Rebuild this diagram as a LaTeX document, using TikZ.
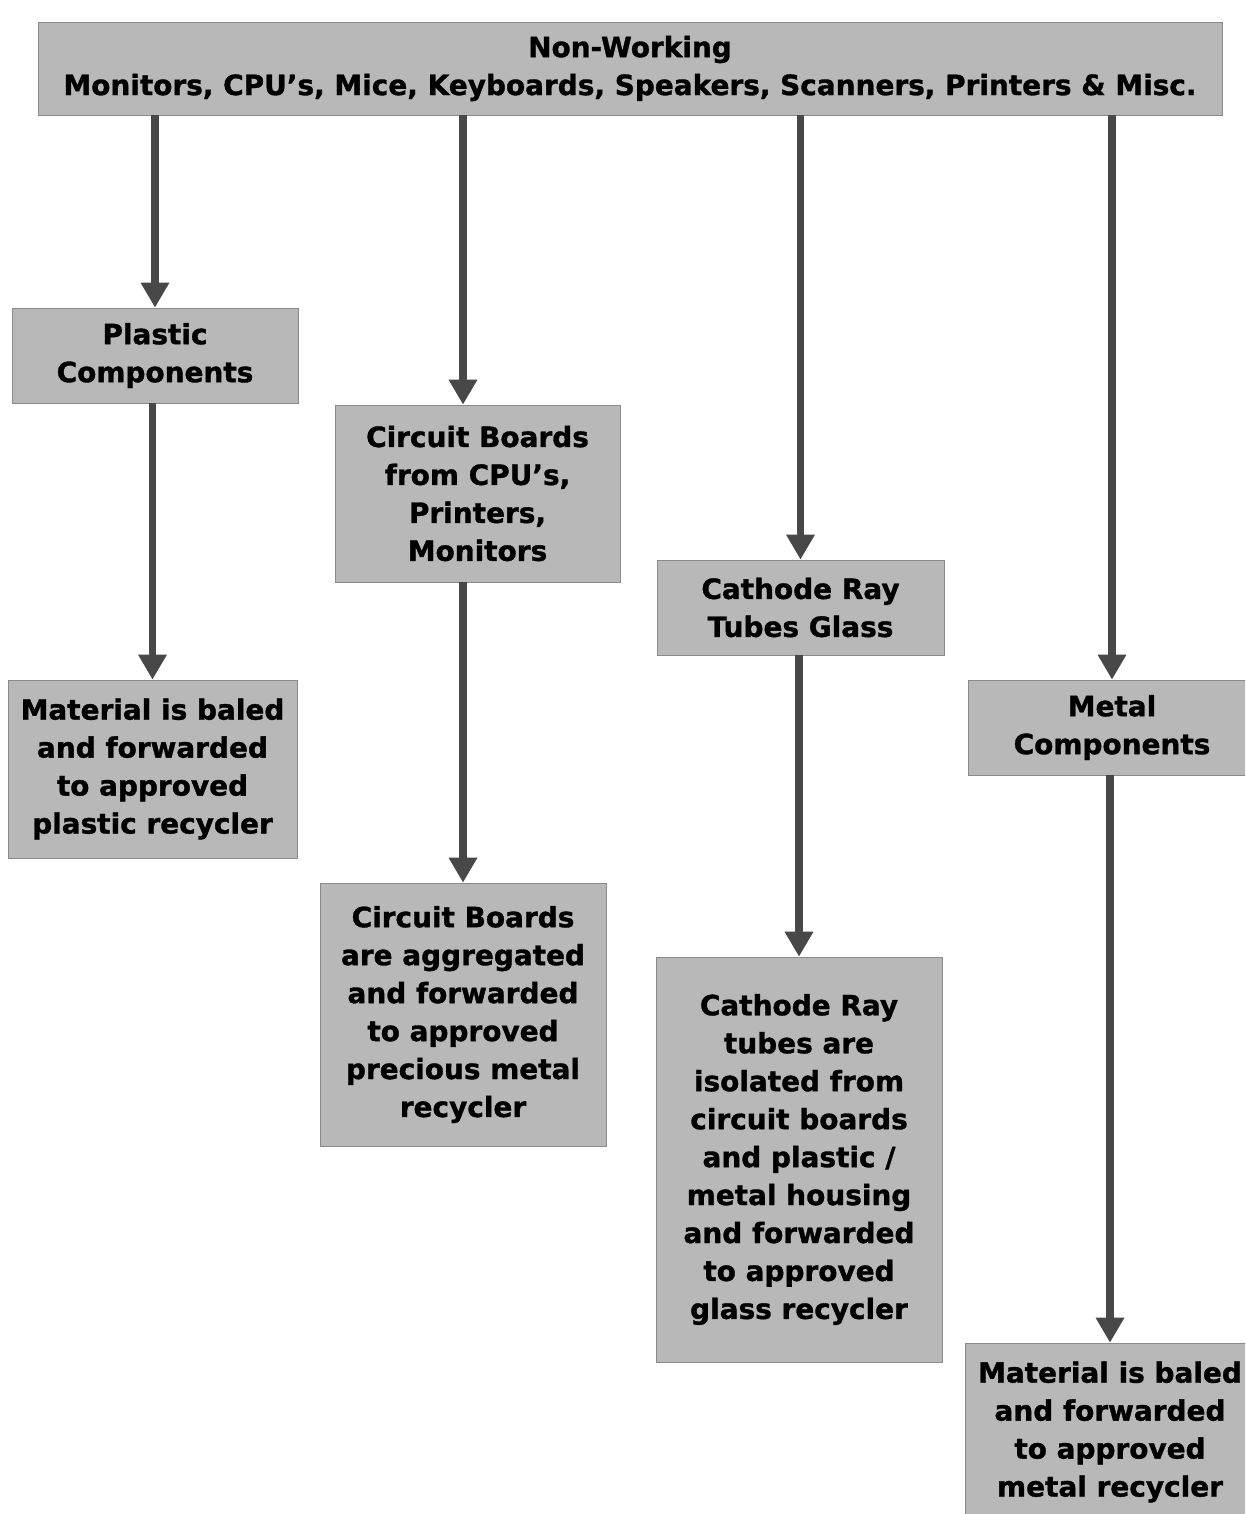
\documentclass[tikz,border=0pt]{standalone}
\usepackage{fontspec}
\setmainfont{DejaVu Sans}[BoldFeatures={FakeBold=1.2}]
\usetikzlibrary{arrows.meta}
\definecolor{boxgray}{RGB}{184,184,184}
\definecolor{arrowgray}{RGB}{72,72,72}

\begin{document}
\begin{tikzpicture}[%
      x=0.02cm, y=-0.02cm,
      box/.style={fill=boxgray, draw=boxgray!75!black, line width=0.4pt,
        align=center, inner sep=0pt,
        execute at begin node={\rule{0pt}{16.5pt}},
        font=\bfseries\fontsize{15.9}{21.6}\selectfont},
      flow/.style={draw=arrowgray, line width=4.5pt,
        -{Triangle[width=0.54cm,length=0.5cm]}},
      ]
      \useasboundingbox (0,0) rectangle (1245,1514);
      \clip (0,0) rectangle (1245,1514);

      \node [box, minimum width=23.68cm, minimum height=1.86cm] (top) at (630,68.5)
        {Non-Working\\Monitors, CPU’s, Mice, Keyboards, Speakers, Scanners, Printers \& Misc.};

      \node [box, minimum width=5.72cm, minimum height=1.9cm] (plastic) at (155,355.5)
        {Plastic\\Components};
      \node [box, minimum width=5.78cm, minimum height=3.56cm] (matplastic) at (152.5,769)
        {Material is baled\\and forwarded\\to approved\\plastic recycler};

      \node [box, minimum width=5.7cm, minimum height=3.54cm] (circuit) at (477.5,493.5)
        {Circuit Boards\\from CPU’s,\\Printers,\\Monitors};
      \node [box, minimum width=5.72cm, minimum height=5.26cm] (aggregate) at (463,1014.5)
        {Circuit Boards\\are aggregated\\and forwarded\\to approved\\precious metal\\recycler};

      \node [box, minimum width=5.74cm, minimum height=1.9cm] (crt) at (800.5,607.5)
        {Cathode Ray\\Tubes Glass};
      \node [box, minimum width=5.72cm, minimum height=8.1cm] (isolate) at (799,1159.5)
        {Cathode Ray\\tubes are\\isolated from\\circuit boards\\and plastic /\\metal housing\\and forwarded\\to approved\\glass recycler};

      \node [box, minimum width=5.76cm, minimum height=1.9cm] (metal) at (1112,727.5)
        {Metal\\Components};
      \node [box, minimum width=5.8cm, minimum height=3.56cm] (matmetal) at (1110,1432)
        {Material is baled\\and forwarded\\to approved\\metal recycler};

      \draw [flow] (top.south -| plastic.north) -- (plastic.north);
      \draw [flow] (plastic.south -| matplastic.north) -- (matplastic.north);
      \draw [flow] (top.south -| aggregate.north) -- (aggregate.north |- circuit.north);
      \draw [flow] (circuit.south -| aggregate.north) -- (aggregate.north);
      \draw [flow] (top.south -| crt.north) -- (crt.north);
      \draw [flow] (crt.south -| isolate.north) -- (isolate.north);
      \draw [flow] (top.south -| metal.north) -- (metal.north);
      \draw [flow] (metal.south -| matmetal.north) -- (matmetal.north);
\end{tikzpicture}
\end{document}
